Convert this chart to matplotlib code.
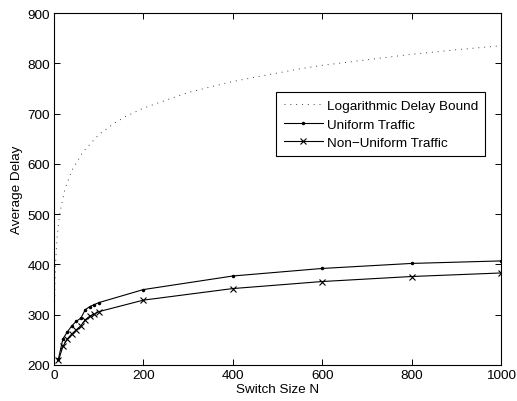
import matplotlib
matplotlib.use("Agg")
import matplotlib.pyplot as plt

# Logarithmic delay bound
bound_n = [0.3, 1, 2, 4, 7, 10, 15, 25, 40, 65, 100, 135, 160, 200, 300, 400,
           550, 600, 700, 800, 900, 1000]
bound_delay = [210, 300, 356, 410, 453, 480, 511, 551, 587, 624, 658, 681, 694,
               711, 742, 764, 789, 796, 807, 818, 827, 835]

# Simulation series
switch_n = [10, 20, 30, 40, 50, 60, 70, 80, 90, 100, 200, 400, 600, 800, 1000]
uniform_delay = [212, 252, 266, 278, 287, 293, 310, 316, 320, 324, 350, 377, 392, 402, 407]
nonuniform_delay = [209, 237, 252, 262, 270, 278, 290, 297, 301, 306, 329, 352, 366, 376, 383]

xticks = [0, 200, 400, 600, 800, 1000]
yticks = [200, 300, 400, 500, 600, 700, 800, 900]

plt.rcParams['font.family'] = ['Liberation Sans', 'DejaVu Sans']
fs = 9.7

fig = plt.figure(figsize=(5.17, 4.02), dpi=100)
ax = fig.add_axes([0.1044, 0.0896, 0.969 - 0.1044, 0.965 - 0.0896])

ax.plot(bound_n, bound_delay, color='0.25', linewidth=0.7, linestyle=(0, (1, 5)),
        label='Logarithmic Delay Bound')
ax.plot(switch_n, uniform_delay, color='k', linewidth=0.8, marker='.', markersize=3,
        label='Uniform Traffic')
ax.plot(switch_n, nonuniform_delay, color='k', linewidth=0.8, marker='x', markersize=5,
        markeredgewidth=0.8, label='Non\u2212Uniform Traffic')

ax.set_xlim(0, 1000)
ax.set_ylim(200, 900)
ax.set_xticks(xticks)
ax.set_yticks(yticks)
ax.tick_params(direction='in', top=True, right=True, length=4, width=0.7,
               labelsize=fs, pad=3)
for s in ax.spines.values():
    s.set_linewidth(0.8)

ax.set_xlabel('Switch Size N', fontsize=fs, labelpad=1)
ax.set_ylabel('Average Delay', fontsize=fs, labelpad=3)

leg = ax.legend(loc='upper right', bbox_to_anchor=(0.965, 0.775), borderaxespad=0,
                fontsize=fs, fancybox=False, edgecolor='k', framealpha=1,
                handlelength=2.9, handletextpad=0.3, borderpad=0.55, labelspacing=0.45)
leg.get_frame().set_linewidth(0.8)

fig.savefig('out.png', dpi=100)
